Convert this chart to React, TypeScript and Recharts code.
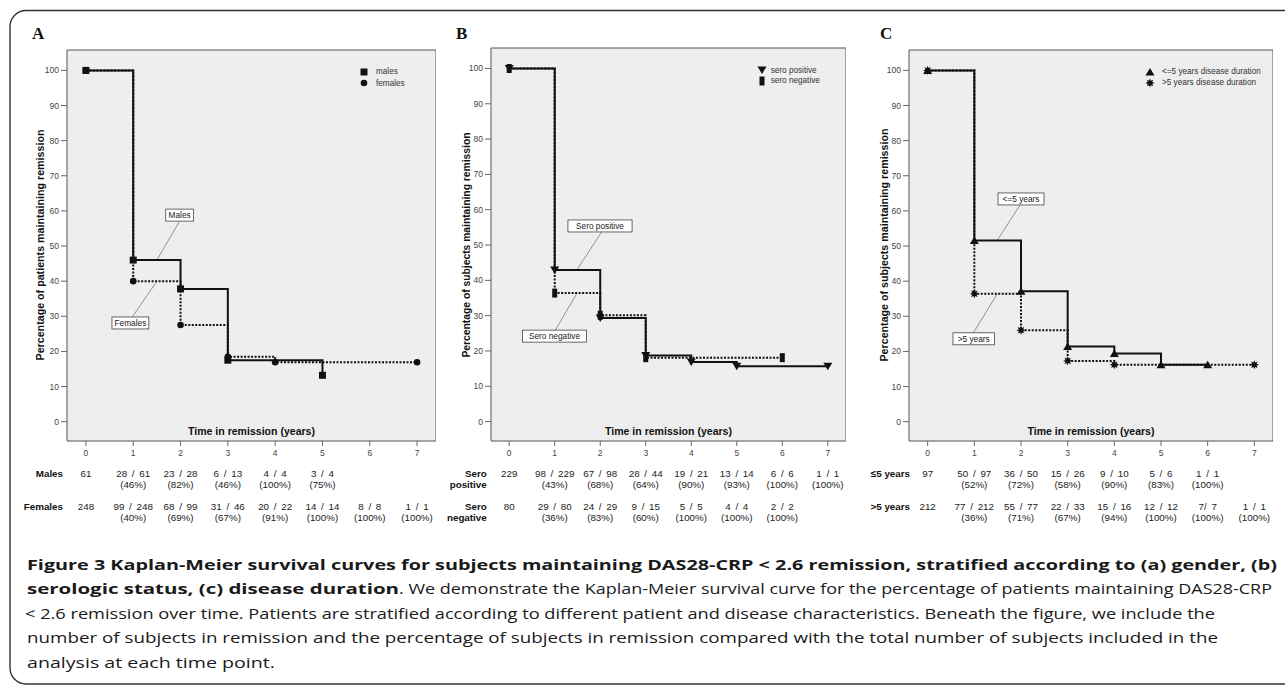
import { LineChart, Line, XAxis, YAxis, CartesianGrid, ReferenceArea, ReferenceLine, ReferenceDot, Legend } from "recharts"

// shared axes
const years = [0, 1, 2, 3, 4, 5, 6, 7]
const percentTicks = [0, 10, 20, 30, 40, 50, 60, 70, 80, 90, 100]

// A: gender
const maleTimes = [0, 1, 2, 3, 5]
const maleSurvival = [100, 46, 37.8, 17.5, 13.2]
const femaleTimes = [0, 1, 2, 3, 4, 7]
const femaleSurvival = [100, 40, 27.5, 18.5, 16.9, 16.9]
const maleAtRisk = ["61", "28 / 61", "23 / 28", "6 / 13", "4 / 4", "3 / 4"]
const malePct = ["", "(46%)", "(82%)", "(46%)", "(100%)", "(75%)"]
const femaleAtRisk = ["248", "99 / 248", "68 / 99", "31 / 46", "20 / 22", "14 / 14", "8 / 8", "1 / 1"]
const femalePct = ["", "(40%)", "(69%)", "(67%)", "(91%)", "(100%)", "(100%)", "(100%)"]

// B: serologic status
const seroPosTimes = [0, 1, 2, 3, 4, 5, 7]
const seroPosSurvival = [100, 42.9, 29.3, 18.7, 16.9, 15.7, 15.7]
const seroNegTimes = [0, 1, 2, 3, 6]
const seroNegSurvival = [100, 36.4, 30.1, 18.1, 18.1]
const seroPosAtRisk = ["229", "98 / 229", "67 / 98", "28 / 44", "19 / 21", "13 / 14", "6 / 6", "1 / 1"]
const seroPosPct = ["", "(43%)", "(68%)", "(64%)", "(90%)", "(93%)", "(100%)", "(100%)"]
const seroNegAtRisk = ["80", "29 / 80", "24 / 29", "9 / 15", "5 / 5", "4 / 4", "2 / 2"]
const seroNegPct = ["", "(36%)", "(83%)", "(60%)", "(100%)", "(100%)", "(100%)"]

// C: disease duration
const shortTimes = [0, 1, 2, 3, 4, 5, 6]
const shortSurvival = [100, 51.6, 37.1, 21.4, 19.4, 16.2, 16.2]
const longTimes = [0, 1, 2, 3, 4, 7]
const longSurvival = [100, 36.4, 26, 17.3, 16.2, 16.2]
const shortAtRisk = ["97", "50 / 97", "36 / 50", "15 / 26", "9 / 10", "5 / 6", "1 / 1"]
const shortPct = ["", "(52%)", "(72%)", "(58%)", "(90%)", "(83%)", "(100%)"]
const longAtRisk = ["212", "77 / 212", "55 / 77", "22 / 33", "15 / 16", "12 / 12", "7/ 7", "1 / 1"]
const longPct = ["", "(36%)", "(71%)", "(67%)", "(94%)", "(100%)", "(100%)", "(100%)"]

const captionLines = [
  "Figure 3 Kaplan-Meier survival curves for subjects maintaining DAS28-CRP < 2.6 remission, stratified according to (a) gender, (b)",
  "serologic status, (c) disease duration",
  ". We demonstrate the Kaplan-Meier survival curve for the percentage of patients maintaining DAS28-CRP",
  "< 2.6 remission over time. Patients are stratified according to different patient and disease characteristics. Beneath the figure, we include the",
  "number of subjects in remission and the percentage of subjects in remission compared with the total number of subjects included in the",
  "analysis at each time point.",
]

const X_DOMAIN: [number, number] = [-0.4, 7.4]
const Y_DOMAIN: [number, number] = [-5.5, 105.8]
const SANS = "'Liberation Sans', Arial, sans-serif"
const INK = "#111"

const zip = (ts: number[], vs: number[]) => ts.map((t, i) => ({ t, v: vs[i] }))

type Shape = "square" | "circle" | "triDown" | "bar" | "triUp" | "star"

function Marker({ shape, cx, cy }: { shape: Shape; cx: number; cy: number }) {
  if (cx == null || cy == null) return null
  switch (shape) {
    case "square":
      return <rect x={cx - 3.5} y={cy - 3.5} width={7} height={7} fill={INK} />
    case "circle":
      return <circle cx={cx} cy={cy} r={3.3} fill={INK} />
    case "triDown":
      return <path d={`M${cx - 4.5},${cy - 3.5}L${cx + 4.5},${cy - 3.5}L${cx},${cy + 4}Z`} fill={INK} />
    case "triUp":
      return <path d={`M${cx - 4.5},${cy + 3.5}L${cx + 4.5},${cy + 3.5}L${cx},${cy - 4}Z`} fill={INK} />
    case "bar":
      return <rect x={cx - 2.5} y={cy - 4.5} width={5} height={9} fill={INK} />
    case "star": {
      const pts: string[] = []
      for (let i = 0; i < 16; i++) {
        const r = i % 2 === 0 ? 4.6 : 2.4
        const a = (Math.PI * i) / 8
        pts.push(`${cx + r * Math.sin(a)},${cy - r * Math.cos(a)}`)
      }
      return <polygon points={pts.join(" ")} fill={INK} />
    }
  }
  return null
}

interface Series {
  name: string
  data: { t: number; v: number }[]
  shape: Shape
  dashed?: boolean
}

interface Note {
  text: string
  at: { x: number; y: number }
  line: [{ x: number; y: number }, { x: number; y: number }]
}

interface TableRow {
  label: string[]
  atRisk: string[]
  pct: string[]
}

interface PanelProps {
  letter: string
  left: number
  top: number
  plotW: number
  yTitle: string
  yTitleX: number
  yTitleLen: number
  series: Series[]
  legendX: number
  legendY: number
  legendGap: number
  notes: Note[]
  rows: TableRow[]
  labelRight: number
}

const Y_AXIS_W = 57
const PLOT_BOTTOM = 441

function NoteBox({ cx, cy, text }: { cx?: number; cy?: number; text: string }) {
  if (cx == null || cy == null) return null
  const w = text.length * 4.55 + 5
  return (
    <g>
      <rect x={cx - w / 2} y={cy - 6} width={w} height={12} fill="#fff" stroke="#444" strokeWidth={0.8} />
      <text x={cx} y={cy + 3} textAnchor="middle" fontSize={8.3} fill="#222" fontFamily={SANS}>{text}</text>
    </g>
  )
}

// axis titles ignore the props recharts passes and sit at fixed spots
function XTitle({ px, py }: { px: number; py: number }) {
  return (
    <text
      x={px}
      y={py}
      textAnchor="middle"
      fontSize={11}
      fontWeight={700}
      fill="#111"
      fontFamily={SANS}
      textLength={127}
      lengthAdjust="spacingAndGlyphs"
    >
      Time in remission (years)
    </text>
  )
}

function YTitle({ px, py, len, text }: { px: number; py: number; len: number; text: string }) {
  return (
    <text
      x={px}
      y={py}
      transform={`rotate(-90, ${px}, ${py})`}
      textAnchor="middle"
      dominantBaseline="central"
      fontSize={10.5}
      fontWeight={700}
      fill="#111"
      fontFamily={SANS}
      textLength={len}
      lengthAdjust="spacingAndGlyphs"
    >
      {text}
    </text>
  )
}

function Panel(p: PanelProps) {
  const chartW = Y_AXIS_W + p.plotW
  const chartH = PLOT_BOTTOM + 20
  const colX = (t: number) => Y_AXIS_W + ((t - X_DOMAIN[0]) / (X_DOMAIN[1] - X_DOMAIN[0])) * p.plotW
  const rowTops = [467.5, 500.5]

  return (
    <div style={{ position: "absolute", left: p.left, top: 0, width: chartW, height: 540, fontFamily: SANS }}>
      <div style={{ position: "absolute", left: p.letter === "C" ? 28 : 22, top: 24, fontFamily: "'Liberation Serif', 'Times New Roman', serif", fontWeight: 700, fontSize: 17, color: "#111" }}>
        {p.letter}
      </div>
      <LineChart
        width={chartW}
        height={chartH}
        margin={{ top: p.top, right: 0, bottom: 0, left: 0 }}
        style={{ position: "absolute", left: 0, top: 0 }}
      >
        <CartesianGrid fill="#eeeeee" horizontal={false} vertical={false} />
        <XAxis
          type="number"
          dataKey="t"
          domain={X_DOMAIN}
          ticks={years}
          allowDataOverflow
          axisLine={false}
          tickSize={5}
          tickMargin={4}
          tickLine={{ stroke: "#666" }}
          tick={{ fontSize: 8.5, fill: "#444", fontFamily: SANS }}
          height={20}
          label={<XTitle px={Y_AXIS_W + p.plotW / 2} py={PLOT_BOTTOM - 6} />}
        />
        <YAxis
          type="number"
          domain={Y_DOMAIN}
          ticks={percentTicks}
          allowDataOverflow
          axisLine={false}
          width={Y_AXIS_W}
          tickSize={6}
          tickMargin={2}
          tickLine={{ stroke: "#666" }}
          tick={{ fontSize: 8.5, fill: "#444", fontFamily: SANS }}
          label={<YTitle px={p.yTitleX} py={245} len={p.yTitleLen} text={p.yTitle} />}
        />
        <ReferenceArea x1={X_DOMAIN[0]} x2={X_DOMAIN[1]} y1={Y_DOMAIN[0]} y2={Y_DOMAIN[1]} fill="none" stroke="#555" strokeWidth={1} />
        {p.notes.map((n) => (
          <ReferenceLine key={`l-${n.text}`} segment={n.line} stroke="#888" strokeWidth={0.9} />
        ))}
        {p.series.map((s) => (
          <Line
            key={s.name}
            name={s.name}
            data={s.data}
            dataKey="v"
            type="stepAfter"
            stroke={INK}
            strokeWidth={2}
            strokeDasharray={s.dashed ? "2 1.5" : undefined}
            dot={(d: any) => <Marker key={`${s.name}-${d.index}`} shape={s.shape} cx={d.cx} cy={d.cy} />}
            activeDot={false}
            isAnimationActive={false}
          />
        ))}
        {p.notes.map((n) => (
          <ReferenceDot
            key={`b-${n.text}`}
            x={n.at.x}
            y={n.at.y}
            r={0}
            shape={(d: any) => <NoteBox cx={d.cx} cy={d.cy} text={n.text} />}
          />
        ))}
        <Legend
          layout="vertical"
          align="center"
          verticalAlign="middle"
          wrapperStyle={{ left: p.legendX - 6, top: p.legendY - 6, width: 200, height: "auto" }}
          content={() => (
            <div style={{ fontFamily: SANS, fontSize: 8.2, color: "#333" }}>
              {p.series.map((s) => (
                <div key={s.name} style={{ display: "flex", alignItems: "center", height: p.legendGap }}>
                  <svg width={12} height={12} style={{ flex: "none" }}>
                    <Marker shape={s.shape} cx={6} cy={6} />
                  </svg>
                  <span style={{ marginLeft: s.shape === "bar" || s.shape === "triDown" ? 3 : 6 }}>{s.name}</span>
                </div>
              ))}
            </div>
          )}
        />
      </LineChart>
      {p.rows.map((r, ri) => (
        <div key={ri}>
          <div
            style={{
              position: "absolute",
              right: chartW - p.labelRight,
              top: rowTops[ri],
              fontSize: 9.8,
              lineHeight: "11px",
              fontWeight: 700,
              textAlign: "right",
              color: "#111",
              whiteSpace: "nowrap",
            }}
          >
            {r.label.map((l) => (
              <div key={l}>{l}</div>
            ))}
          </div>
          {r.atRisk.map((v, ci) => (
            <div
              key={ci}
              style={{
                position: "absolute",
                left: colX(years[ci]) - 40,
                width: 80,
                top: rowTops[ri],
                fontSize: 9.8,
                lineHeight: "11px",
                textAlign: "center",
                color: "#222",
                wordSpacing: 2,
                whiteSpace: "nowrap",
              }}
            >
              <div>{v}</div>
              <div>{r.pct[ci]}</div>
            </div>
          ))}
        </div>
      ))}
    </div>
  )
}

function Caption() {
  const F = "'Open Sans', 'Noto Sans', sans-serif"
  const base = [569.5, 594, 618.5, 643, 667.5]
  return (
    <svg width={1285} height={686} style={{ position: "absolute", left: 0, top: 0, pointerEvents: "none" }}>
      <path d="M1300,10.5 H26 A16,16 0 0 0 10,26.5 V668 A16,16 0 0 0 26,684 H1300" fill="none" stroke="#333" strokeWidth={1.4} />
      <g fontFamily={F} fontSize={15} fill="#1a1a1a">
        <text x={27} y={base[0]} fontWeight={700} textLength={1250} lengthAdjust="spacingAndGlyphs">{captionLines[0]}</text>
        <text x={27} y={base[1]} fontWeight={700} textLength={372} lengthAdjust="spacingAndGlyphs">{captionLines[1]}</text>
        <text x={399} y={base[1]} textLength={873} lengthAdjust="spacingAndGlyphs">{captionLines[2]}</text>
        <text x={25} y={base[2]} textLength={1190} lengthAdjust="spacingAndGlyphs">{captionLines[3]}</text>
        <text x={27} y={base[3]} textLength={1191} lengthAdjust="spacingAndGlyphs">{captionLines[4]}</text>
        <text x={27} y={base[4]} textLength={248} lengthAdjust="spacingAndGlyphs">{captionLines[5]}</text>
      </g>
    </svg>
  )
}

export default function App() {
  return (
    <div style={{ position: "absolute", left: 0, top: 0, width: 1285, height: 686, background: "#fff", overflow: "hidden" }}>
      <Panel
        letter="A"
        left={10}
        top={50}
        plotW={369}
        yTitle="Percentage of patients maintaining remission"
        yTitleX={30}
        yTitleLen={231}
        series={[
          { name: "males", data: zip(maleTimes, maleSurvival), shape: "square" },
          { name: "females", data: zip(femaleTimes, femaleSurvival), shape: "circle", dashed: true },
        ]}
        legendX={354}
        legendY={72}
        legendGap={11.5}
        notes={[
          { text: "Males", at: { x: 1.98, y: 58.8 }, line: [{ x: 1.98, y: 57.1 }, { x: 1.5, y: 46 }] },
          { text: "Females", at: { x: 0.94, y: 28.1 }, line: [{ x: 1.5, y: 40 }, { x: 0.98, y: 29.8 }] },
        ]}
        rows={[
          { label: ["Males"], atRisk: maleAtRisk, pct: malePct },
          { label: ["Females"], atRisk: femaleAtRisk, pct: femalePct },
        ]}
        labelRight={53}
      />
      <Panel
        letter="B"
        left={434}
        top={48}
        plotW={355}
        yTitle="Percentage of subjects maintaining remission"
        yTitleX={32}
        yTitleLen={225}
        series={[
          { name: "sero positive", data: zip(seroPosTimes, seroPosSurvival), shape: "triDown" },
          { name: "sero negative", data: zip(seroNegTimes, seroNegSurvival), shape: "bar", dashed: true },
        ]}
        legendX={327.7}
        legendY={71}
        legendGap={10.5}
        notes={[
          { text: "Sero positive", at: { x: 1.995, y: 55.4 }, line: [{ x: 2.05, y: 54.1 }, { x: 1.49, y: 43 }] },
          { text: "Sero negative", at: { x: 0.995, y: 24.2 }, line: [{ x: 1.49, y: 36.4 }, { x: 1.01, y: 25.8 }] },
        ]}
        rows={[
          { label: ["Sero", "positive"], atRisk: seroPosAtRisk, pct: seroPosPct },
          { label: ["Sero", "negative"], atRisk: seroNegAtRisk, pct: seroNegPct },
        ]}
        labelRight={52.7}
      />
      <Panel
        letter="C"
        left={852}
        top={50}
        plotW={364}
        yTitle="Percentage of subjects maintaining remission"
        yTitleX={32}
        yTitleLen={233}
        series={[
          { name: "<=5 years disease duration", data: zip(shortTimes, shortSurvival), shape: "triUp" },
          { name: ">5 years disease duration", data: zip(longTimes, longSurvival), shape: "star", dashed: true },
        ]}
        legendX={298}
        legendY={72}
        legendGap={11}
        notes={[
          { text: "<=5 years", at: { x: 2.0, y: 63.4 }, line: [{ x: 2.0, y: 62.1 }, { x: 1.49, y: 51.6 }] },
          { text: ">5 years", at: { x: 0.986, y: 23.6 }, line: [{ x: 1.49, y: 36.4 }, { x: 0.98, y: 25.3 }] },
        ]}
        rows={[
          { label: ["\u22645 years"], atRisk: shortAtRisk, pct: shortPct },
          { label: [">5 years"], atRisk: longAtRisk, pct: longPct },
        ]}
        labelRight={58}
      />
      <Caption />
    </div>
  )
}
